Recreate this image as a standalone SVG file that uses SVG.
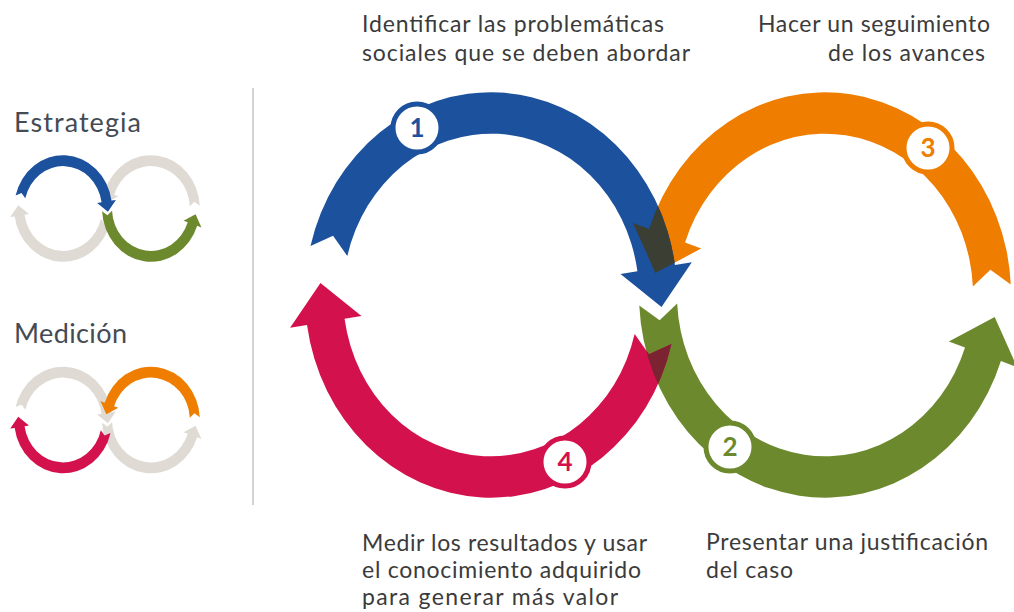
<svg xmlns="http://www.w3.org/2000/svg" xmlns:xlink="http://www.w3.org/1999/xlink" width="1014" height="612" viewBox="0 0 1014 612">
  <style>
    .txt { font-family: Lato, "Open Sans", "Liberation Sans", sans-serif; font-size: 23px; fill: #3b3b3b; }
    .legend { font-size: 27px; fill: #454b55; }
    .badge circle { fill: #ffffff; stroke-width: 5; }
    .badge text { font-family: Lato, "Open Sans", "Liberation Sans", sans-serif; font-weight: 700; font-size: 26px; text-anchor: middle; }
    .divider { stroke: #c4c4c4; stroke-width: 1.5; fill: none; }
  </style>
  <defs>
    <!-- Ring arrows in a shared frame: origin at the crossing, left ring centre (-176,0), right ring centre (176,0), mid radius 176, band 156..196 -->
    <path id="arc-blue" d="M-366.18,-47.42 A196,196 0 0 1 17.85,-28.97 L35.65,-31.63 L3.69,11.57 L-39.52,-20.40 L-21.71,-23.06 A156,156 0 0 0 -327.37,-37.74 L-342.41,-57.30 Z"/>
    <path id="arc-red" d="M14.18,47.42 A196,196 0 0 1 -369.85,28.97 L-387.65,31.63 L-355.69,-11.57 L-312.48,20.40 L-330.29,23.06 A156,156 0 0 0 -24.63,37.74 L-9.59,57.30 Z"/>
    <path id="arc-orange" d="M371.73,-10.26 A196,196 0 0 0 -9.32,-63.81 L-26.34,-69.67 L-2.78,-21.37 L45.52,-44.93 L28.50,-50.79 A156,156 0 0 1 331.79,-8.16 L350.29,-24.49 Z"/>
    <path id="arc-green" d="M-19.73,10.26 A196,196 0 0 0 361.32,63.81 L378.34,69.67 L354.78,21.37 L306.48,44.93 L323.50,50.79 A156,156 0 0 1 20.21,8.16 L1.71,24.49 Z"/>
    <clipPath id="clip-blue"><use href="#arc-blue"/></clipPath>
    <clipPath id="clip-green"><use href="#arc-green"/></clipPath>
  </defs>

  <!-- Legend -->
  <g id="legend-estrategia">
    <text class="txt legend" x="14" y="132" textLength="127" lengthAdjust="spacing">Estrategia</text>
    <g transform="translate(107,208.5) scale(0.2496,0.2719)">
      <use href="#arc-orange" fill="#dfdbd4"/>
      <use href="#arc-red" fill="#dfdbd4"/>
      <use href="#arc-blue" fill="#1c519d"/>
      <use href="#arc-green" fill="#6c8a2d"/>
    </g>
  </g>
  <g id="legend-medicion">
    <text class="txt legend" x="14" y="343" textLength="113" lengthAdjust="spacing">Medición</text>
    <g transform="translate(107,420) scale(0.2496,0.2719)">
      <use href="#arc-blue" fill="#dfdbd4"/>
      <use href="#arc-green" fill="#dfdbd4"/>
      <use href="#arc-orange" fill="#ee7d00"/>
      <use href="#arc-red" fill="#d3114d"/>
    </g>
  </g>

  <line class="divider" x1="253" y1="88" x2="253" y2="505"/>

  <!-- Cycle arrows -->
  <g id="connectors" transform="translate(658,295) scale(0.949,1.034)">
    <use href="#arc-orange" fill="#ee7d00"/>
    <use href="#arc-blue" fill="#1c519d"/>
    <use href="#arc-orange" fill="#3b3f33" clip-path="url(#clip-blue)"/>
    <use href="#arc-green" fill="#6c8a2d"/>
    <use href="#arc-red" fill="#d3114d"/>
    <use href="#arc-red" fill="#7b2330" clip-path="url(#clip-green)"/>
  </g>

  <!-- Steps -->
  <g id="step-1">
    <g class="badge"><circle cx="417" cy="128" r="24" stroke="#1c519d"/><text x="417" y="137" fill="#1c519d">1</text></g>
    <text class="txt" x="362" y="32" textLength="302" lengthAdjust="spacing">Identificar las problemáticas</text>
    <text class="txt" x="362" y="61" textLength="328" lengthAdjust="spacing">sociales que se deben abordar</text>
  </g>
  <g id="step-2">
    <g class="badge"><circle cx="730" cy="447" r="24" stroke="#6c8a2d"/><text x="730" y="456" fill="#6c8a2d">2</text></g>
    <text class="txt" x="706" y="550" textLength="282" lengthAdjust="spacing">Presentar una justificación</text>
    <text class="txt" x="706" y="578" textLength="87" lengthAdjust="spacing">del caso</text>
  </g>
  <g id="step-3">
    <g class="badge"><circle cx="928" cy="148" r="24" stroke="#ee7d00"/><text x="928" y="157" fill="#ee7d00">3</text></g>
    <text class="txt" x="758" y="32" textLength="232" lengthAdjust="spacing">Hacer un seguimiento</text>
    <text class="txt" x="828" y="61" textLength="157" lengthAdjust="spacing">de los avances</text>
  </g>
  <g id="step-4">
    <g class="badge"><circle cx="565" cy="462" r="24" stroke="#d3114d"/><text x="565" y="471" fill="#d3114d">4</text></g>
    <text class="txt" x="362" y="551" textLength="285" lengthAdjust="spacing">Medir los resultados y usar</text>
    <text class="txt" x="362" y="578" textLength="279" lengthAdjust="spacing">el conocimiento adquirido</text>
    <text class="txt" x="362" y="605" textLength="256" lengthAdjust="spacing">para generar más valor</text>
  </g>
</svg>
